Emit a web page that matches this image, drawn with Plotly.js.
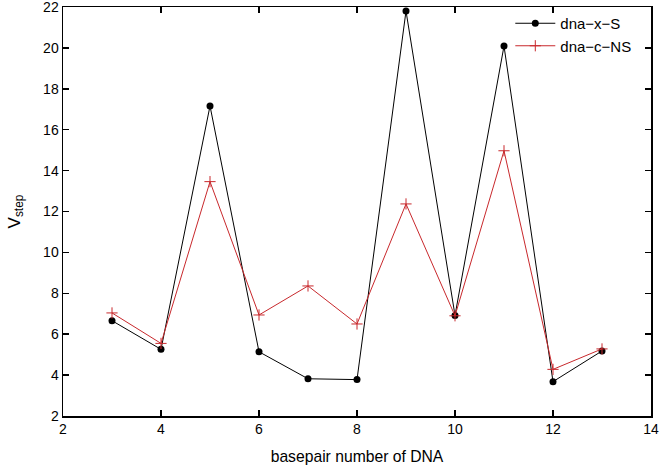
<!DOCTYPE html>
<html>
<head>
<meta charset="utf-8">
<script src="https://cdn.plot.ly/plotly-3.0.1.min.js"></script>
<style>html,body{margin:0;padding:0;background:#fff;}#chart{width:662px;height:465px;}</style>
</head>
<body>
<div id="chart"></div>
<script>
var basepairs = [3, 4, 5, 6, 7, 8, 9, 10, 11, 12, 13];
var dnaXS = [6.66, 5.26, 17.16, 5.14, 3.82, 3.78, 21.8, 6.92, 20.09, 3.68, 5.18];
var dnaCNS = [7.04, 5.55, 13.46, 6.94, 8.36, 6.5, 12.37, 6.9, 14.97, 4.28, 5.28];
var xTicks = [2, 4, 6, 8, 10, 12, 14];
var yTicks = [2, 4, 6, 8, 10, 12, 14, 16, 18, 20, 22];

var traces = [
  {x: basepairs, y: dnaXS, name: 'dna\u2212x\u2212S', mode: 'lines+markers', type: 'scatter',
   line: {color: '#000000', width: 1}, marker: {color: '#000000', symbol: 'circle', size: 7}},
  {x: basepairs, y: dnaCNS, name: 'dna\u2212c\u2212NS', mode: 'lines+markers', type: 'scatter',
   line: {color: '#c8282c', width: 1}, marker: {color: '#c8282c', symbol: 'cross-thin-open', size: 8, line: {color: '#c8282c', width: 1}}}
];

var axisCommon = {
  showgrid: false, zeroline: false, showline: true, mirror: 'ticks', linecolor: '#000', linewidth: 1.5,
  ticks: 'inside', ticklen: 6, tickwidth: 1.5, tickcolor: '#000', ticklabeloverflow: 'allow',
  tickfont: {family: 'Liberation Sans, Arial, sans-serif', size: 14, color: '#000'}
};

var layout = {
  width: 662, height: 465,
  margin: {l: 63, r: 11, t: 7, b: 49},
  paper_bgcolor: '#fff', plot_bgcolor: '#fff',
  font: {family: 'Liberation Sans, Arial, sans-serif', size: 14, color: '#000'},
  xaxis: Object.assign({}, axisCommon, {range: [2, 14], tickvals: xTicks,
    title: {text: 'basepair number of DNA', font: {size: 15.7}, standoff: 18}}),
  yaxis: Object.assign({}, axisCommon, {range: [2, 22], tickvals: yTicks,
    title: {text: 'V<sub>step</sub>', font: {size: 17}, standoff: 18}}),
  showlegend: true,
  legend: {x: 0.975, y: 1.0, xanchor: 'right', yanchor: 'top', bgcolor: 'rgba(0,0,0,0)',
    font: {size: 15}, tracegroupgap: 0, itemwidth: 40}
};

Plotly.newPlot('chart', traces, layout, {displayModeBar: false, staticPlot: true});
</script>
</body>
</html>
